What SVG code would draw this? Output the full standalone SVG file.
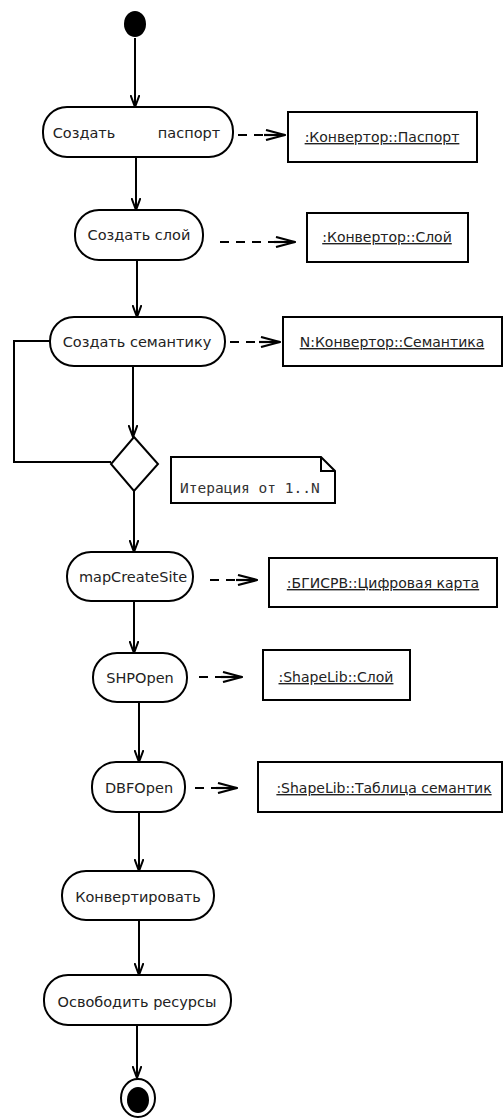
<svg xmlns="http://www.w3.org/2000/svg" width="503" height="1119" viewBox="0 0 503 1119">
  <defs>
    <marker id="flow" viewBox="0 0 13 10" markerWidth="13" markerHeight="10" refX="12" refY="5" orient="auto" markerUnits="userSpaceOnUse">
      <path d="M0,0.5 L12,5 L0,9.5" fill="none" stroke="#000" stroke-width="2"/>
    </marker>
    <marker id="dep" viewBox="0 0 22 12" markerWidth="22" markerHeight="12" refX="21" refY="6" orient="auto" markerUnits="userSpaceOnUse">
      <path d="M2,1 L21,6 L2,11" fill="none" stroke="#000" stroke-width="2.2"/>
      <path d="M0,6 L21,6" fill="none" stroke="#000" stroke-width="2.2"/>
    </marker>
    <style>
      .act { fill: #fff; stroke: #000; stroke-width: 2; }
      .obj { fill: #fff; stroke: #000; stroke-width: 2; }
      .lbl { font-family: "DejaVu Sans", sans-serif; font-size: 14.5px; fill: #222; text-anchor: middle; }
      .olbl { font-family: "DejaVu Sans", sans-serif; font-size: 14px; fill: #222; text-anchor: middle; text-decoration: underline; }
      .note { font-family: "DejaVu Sans Mono", monospace; font-size: 14.5px; fill: #333; }
      .edge { fill: none; stroke: #000; stroke-width: 2; }
      .dash { fill: none; stroke: #000; stroke-width: 2.2; stroke-dasharray: 9 7; }
    </style>
  </defs>

  <g id="connectors">
    <path class="edge" d="M135,38 L135,107" marker-end="url(#flow)"/>
    <path class="edge" d="M136,157 L136,210" marker-end="url(#flow)"/>
    <path class="edge" d="M137,260 L137,317" marker-end="url(#flow)"/>
    <path class="edge" d="M133,366 L133,437" marker-end="url(#flow)"/>
    <path class="edge" d="M50,341 L14,341 L14,462 L111,462"/>
    <path class="edge" d="M134,491 L134,552" marker-end="url(#flow)"/>
    <path class="edge" d="M134,601 L134,653" marker-end="url(#flow)"/>
    <path class="edge" d="M139,702 L139,762" marker-end="url(#flow)"/>
    <path class="edge" d="M139,812 L139,871" marker-end="url(#flow)"/>
    <path class="edge" d="M139,920 L139,975" marker-end="url(#flow)"/>
    <path class="edge" d="M137,1025 L137,1078" marker-end="url(#flow)"/>

    <path class="dash" d="M238,135 L285,135" marker-end="url(#dep)"/>
    <path class="dash" d="M220,242 L295,242" marker-end="url(#dep)"/>
    <path class="dash" d="M230,342 L280,342" marker-end="url(#dep)"/>
    <path class="dash" d="M210,580 L257,580" marker-end="url(#dep)"/>
    <path class="dash" d="M199,677 L242,677" marker-end="url(#dep)"/>
    <path class="dash" d="M195,788 L237,788" marker-end="url(#dep)"/>
  </g>

  <g id="start">
    <ellipse cx="135" cy="24" rx="11" ry="13" fill="#000"/>
  </g>

  <g id="create-passport">
    <rect class="act" x="43" y="107" width="190" height="50" rx="24"/>
    <text class="lbl" x="84" y="138">Создать</text>
    <text class="lbl" x="189" y="138">паспорт</text>
  </g>
  <g id="obj-passport">
    <rect class="obj" x="288" y="112" width="189" height="50"/>
    <text class="olbl" x="382" y="142">:Конвертор::Паспорт</text>
  </g>

  <g id="create-layer">
    <rect class="act" x="75" y="210" width="128" height="50" rx="24"/>
    <text class="lbl" x="139" y="240">Создать слой</text>
  </g>
  <g id="obj-layer">
    <rect class="obj" x="307" y="213" width="161" height="49"/>
    <text class="olbl" x="387" y="242">:Конвертор::Слой</text>
  </g>

  <g id="create-semantics">
    <rect class="act" x="50" y="317" width="175" height="49" rx="24"/>
    <text class="lbl" x="137" y="347">Создать семантику</text>
  </g>
  <g id="obj-semantics">
    <rect class="obj" x="283" y="317" width="219" height="49"/>
    <text class="olbl" x="392" y="347">N:Конвертор::Семантика</text>
  </g>

  <g id="decision">
    <path class="act" d="M134,437 L158,464 L134,491 L111,464 Z"/>
  </g>

  <g id="iteration-note">
    <path class="obj" d="M171,457 L321,457 L335,471 L335,503 L171,503 Z"/>
    <path class="edge" d="M321,457 L321,471 L335,471" stroke-width="1.2"/>
    <text class="note" x="180" y="493">Итерация от 1..N</text>
  </g>

  <g id="map-create-site">
    <rect class="act" x="67" y="552" width="126" height="49" rx="24"/>
    <text class="lbl" x="133" y="582">mapCreateSite</text>
  </g>
  <g id="obj-map">
    <rect class="obj" x="269" y="558" width="228" height="49"/>
    <text class="olbl" x="383" y="588">:БГИСРВ::Цифровая карта</text>
  </g>

  <g id="shp-open">
    <rect class="act" x="93" y="653" width="94" height="49" rx="24"/>
    <text class="lbl" x="140" y="683">SHPOpen</text>
  </g>
  <g id="obj-shape-layer">
    <rect class="obj" x="263" y="650" width="147" height="50"/>
    <text class="olbl" x="336" y="682">:ShapeLib::Слой</text>
  </g>

  <g id="dbf-open">
    <rect class="act" x="92" y="762" width="93" height="50" rx="24"/>
    <text class="lbl" x="139" y="793">DBFOpen</text>
  </g>
  <g id="obj-shape-table">
    <rect class="obj" x="258" y="762" width="244" height="50"/>
    <text class="olbl" x="384" y="793">:ShapeLib::Таблица семантик</text>
  </g>

  <g id="convert">
    <rect class="act" x="62" y="871" width="152" height="49" rx="24"/>
    <text class="lbl" x="138" y="902">Конвертировать</text>
  </g>

  <g id="free-resources">
    <rect class="act" x="44" y="975" width="187" height="50" rx="24"/>
    <text class="lbl" x="137" y="1007">Освободить ресурсы</text>
  </g>

  <g id="end">
    <ellipse cx="138" cy="1098" rx="17" ry="19" fill="#fff" stroke="#000" stroke-width="2"/>
    <ellipse cx="138" cy="1100" rx="11" ry="13" fill="#000"/>
  </g>
</svg>
